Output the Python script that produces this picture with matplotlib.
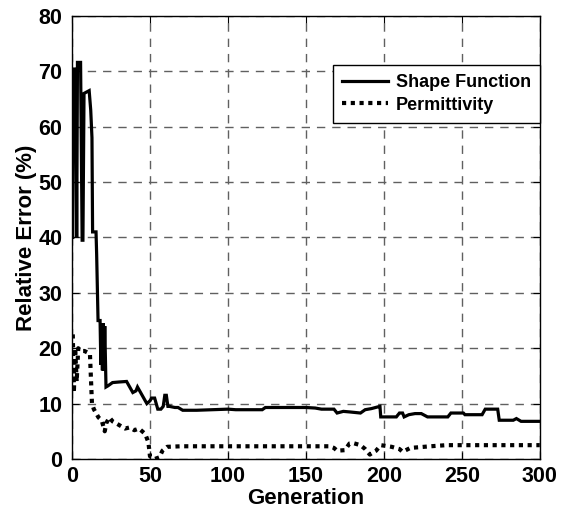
import matplotlib
matplotlib.use("Agg")
import matplotlib.pyplot as plt

plt.rcParams['font.family'] = ['Liberation Sans', 'DejaVu Sans']
plt.rcParams['font.weight'] = 'bold'

shape_x = [0.5, 1, 2.5, 3, 3.5, 5.5, 6.5, 7, 7.7, 11, 12, 12.8, 13.2, 15.4, 15.8, 16.7, 18, 18.5, 19, 19.5, 20, 20.5,
           21, 21.8, 23, 26, 30, 35, 37, 39, 41, 42, 44, 46, 48, 50, 51, 53, 55, 57, 58.5, 59.5, 60.5, 61.5, 62.5,
           66, 68, 71, 80, 90, 100, 105, 115, 122, 124, 140, 150, 156, 160, 168, 170, 174, 178, 185, 188, 192,
           196, 197.5, 198, 205, 208, 210, 212, 213, 216, 220, 224, 228, 236, 241, 243, 251, 252, 263, 265, 273,
           274, 283, 285, 288, 300]
shape_y = [40, 70.4, 70.4, 40, 71.6, 71.6, 39.5, 39.5, 66, 66.5, 63, 58, 41, 41, 37, 25, 25, 17, 24, 16, 24.5, 16,
           24, 13, 13.2, 13.8, 13.9, 14, 13, 12, 12.3, 13, 12, 11, 10, 10.5, 11, 11, 9, 9, 9.5, 11.5, 11.5, 9.5, 9.5,
           9.3, 9.3, 8.8, 8.8, 8.9, 9.0, 8.9, 8.9, 8.9, 9.3, 9.3, 9.3, 9.2, 9.0, 9.0, 8.3, 8.6, 8.5, 8.3, 8.9, 9.1,
           9.4, 9.5, 7.6, 7.6, 7.6, 8.3, 8.3, 7.6, 8.0, 8.2, 8.2, 7.6, 7.6, 7.6, 8.3, 8.3, 8.0, 8.0, 9.0, 9.0,
           7.0, 7.0, 7.3, 6.8, 6.8]

perm_x = [0.5, 1.2, 2, 3, 4, 6, 8, 11.5, 12.8, 14, 16, 17, 19, 21, 22, 24, 26, 28, 31, 34, 37, 40, 43, 45, 47,
          49, 50, 52, 53, 55, 56, 58, 61, 70, 100, 130, 165, 168, 170, 175, 178, 180, 185, 188, 191, 193, 195, 198,
          205, 210, 212, 217, 230, 240, 300]
perm_y = [22.5, 12, 20, 14, 20, 19.5, 19.5, 19, 10, 9, 8, 7.5, 7, 5, 6.5, 7.5, 6.8, 6.5, 6, 5.5, 5.7, 5.2, 5.5, 5,
          4.5, 3, 0.5, 0.3, 0, 0.2, 0.3, 1.5, 2.2, 2.3, 2.3, 2.3, 2.3, 2.0, 1.5, 1.6, 2.8, 2.9, 2.5, 1.8, 0.8, 1.2,
          1.5, 2.5, 2.2, 1.8, 1.3, 2.0, 2.3, 2.5, 2.5]

x_ticks = [0, 50, 100, 150, 200, 250, 300]
y_ticks = [0, 10, 20, 30, 40, 50, 60, 70, 80]

fig = plt.figure(figsize=(5.67, 5.12), dpi=100)
ax = fig.add_axes([0.127, 0.1035, 0.825, 0.8655])

ax.plot(shape_x, shape_y, color='black', lw=2.3, solid_joinstyle='miter', label='Shape Function')
ax.plot(perm_x, perm_y, color='black', lw=3.0, linestyle=(0, (1, 1.1)), label='Permittivity')

ax.set_xlim(0, 300)
ax.set_ylim(0, 80)
ax.set_xticks(x_ticks)
ax.set_yticks(y_ticks)
ax.tick_params(direction='in', length=5, width=0.8, labelsize=15.5, top=True, right=True)
ax.tick_params(axis='y', pad=7)
ax.tick_params(axis='x', pad=5)
for lbl in ax.get_xticklabels() + ax.get_yticklabels():
    lbl.set_fontweight('bold')
ax.grid(True, color='#606060', linestyle=(0, (6, 5)), linewidth=1.0)
for s in ax.spines.values():
    s.set_linewidth(1.0)
ax.set_xlabel('Generation', fontsize=16, fontweight='bold', labelpad=0.5)
ax.set_ylabel('Relative Error (%)', fontsize=16, fontweight='bold', labelpad=1)

leg = ax.legend(loc='upper right', bbox_to_anchor=(1.0, 0.889), fontsize=13, frameon=True, fancybox=False,
                edgecolor='black', framealpha=1, borderpad=0.5, labelspacing=0.3, handlelength=2.5,
                handletextpad=0.45, borderaxespad=0)
leg.get_frame().set_linewidth(1.0)
for t in leg.get_texts():
    t.set_fontweight('bold')

fig.savefig('out.png', dpi=100)
